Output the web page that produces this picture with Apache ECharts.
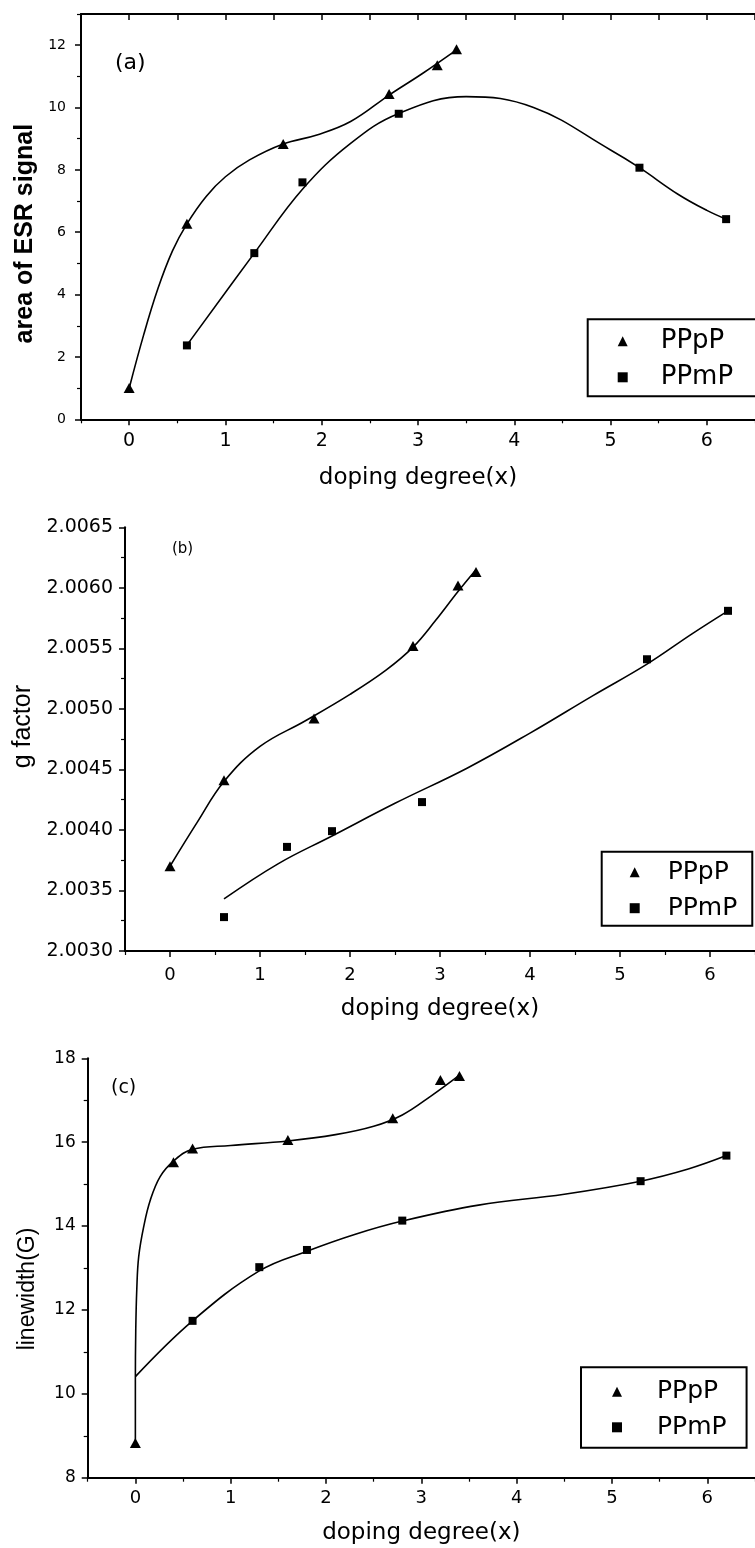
<!DOCTYPE html>
<html><head><meta charset="utf-8">
<script src="https://cdn.jsdelivr.net/npm/echarts@6/dist/echarts.min.js"></script>
<style>html,body{margin:0;padding:0;background:#fff}#c{width:755px;height:1548px}</style>
</head><body><div id="c"></div>
<script>
// ---- tick values ----
const xMajorTicks = [0, 1, 2, 3, 4, 5, 6];
const xMinorTicks = [-0.5, 0.5, 1.5, 2.5, 3.5, 4.5, 5.5, 6.5];
const xTopTicks = [-0.5, 0, 0.5, 1, 1.5, 2, 2.5, 3, 3.5, 4, 4.5, 5, 5.5, 6, 6.5];
const aYMajorTicks = [0, 2, 4, 6, 8, 10, 12];
const aYMinorTicks = [1, 3, 5, 7, 9, 11, 13];
const bYMajorTicks = [2.0030, 2.0035, 2.0040, 2.0045, 2.0050, 2.0055, 2.0060, 2.0065];
const bYMinorTicks = [2.00325, 2.00375, 2.00425, 2.00475, 2.00525, 2.00575, 2.00625];
const cYMajorTicks = [8, 10, 12, 14, 16, 18];
const cYMinorTicks = [9, 11, 13, 15, 17];

const seriesNames = ['PPpP', 'PPmP'];

// ---- panel (a): area of ESR signal ----
const aPPpPx = [0, 0.6, 1.6, 2.7, 3.2, 3.4];
const aPPpPy = [1.0, 6.27, 8.83, 10.43, 11.36, 11.87];
const aPPmPx = [0.6, 1.3, 1.8, 2.8, 5.3, 6.2];
const aPPmPy = [2.37, 5.33, 7.60, 9.80, 8.07, 6.42];
const aFitPPpPx = [0, 0.15, 0.3, 0.45, 0.6, 0.8, 1.0, 1.25, 1.6, 1.95, 2.3, 2.7, 3.05, 3.4];
const aFitPPpPy = [0.99, 2.70, 4.20, 5.40, 6.27, 7.15, 7.78, 8.32, 8.83, 9.12, 9.55, 10.40, 11.10, 11.85];
const aFitPPmPx = [0.6, 1.3, 1.8, 2.3, 2.8, 3.5, 4.2, 5.0, 5.3, 5.7, 6.0, 6.2];
const aFitPPmPy = [2.38, 5.33, 7.38, 8.85, 9.81, 10.35, 10.00, 8.64, 8.07, 7.22, 6.70, 6.42];

// ---- panel (b): g factor ----
const bPPpPx = [0, 0.6, 1.6, 2.7, 3.2, 3.4];
const bPPpPy = [2.00370, 2.00441, 2.00492, 2.00552, 2.00602, 2.00613];
const bPPmPx = [0.6, 1.3, 1.8, 2.8, 5.3, 6.2];
const bPPmPy = [2.00328, 2.00386, 2.00399, 2.00423, 2.00541, 2.00581];
const bFitPPpPx = [0, 0.3, 0.6, 1.0, 1.5, 2.0, 2.4, 2.7, 2.95, 3.2, 3.4];
const bFitPPpPy = [2.00370, 2.00406, 2.00440, 2.00469, 2.00490, 2.00512, 2.00532, 2.00551, 2.00573, 2.00597, 2.00615];
const bFitPPmPx = [0.6, 1.2, 1.8, 2.5, 3.3, 4.0, 4.7, 5.3, 5.8, 6.2];
const bFitPPmPy = [2.00343, 2.00372, 2.00395, 2.00422, 2.00451, 2.00480, 2.00511, 2.00537, 2.00562, 2.00581];

// ---- panel (c): linewidth ----
const cPPpPx = [0, 0.4, 0.6, 1.6, 2.7, 3.2, 3.4];
const cPPpPy = [8.83, 15.52, 15.85, 16.05, 16.57, 17.48, 17.58];
const cPPmPx = [0.6, 1.3, 1.8, 2.8, 5.3, 6.2];
const cPPmPy = [11.74, 13.02, 13.43, 14.13, 15.07, 15.68];
const cFitPPpPx = [0, 0, 0.004, 0.015, 0.035, 0.087, 0.157, 0.26, 0.4, 0.6, 1.0, 1.6, 2.1, 2.5, 2.8, 3.1, 3.4];
const cFitPPpPy = [8.83, 10.3, 11.5, 12.5, 13.27, 13.98, 14.62, 15.18, 15.55, 15.83, 15.92, 16.03, 16.18, 16.38, 16.65, 17.10, 17.6];
const cFitPPmPx = [0, 0.6, 1.3, 1.8, 2.3, 2.8, 3.6, 4.5, 5.3, 5.8, 6.2];
const cFitPPmPy = [10.41, 11.74, 12.93, 13.40, 13.80, 14.12, 14.50, 14.76, 15.07, 15.36, 15.68];

// ---- helpers ----
const zip = (xs, ys) => xs.map((x, i) => [x, ys[i]]);
const FONT = 'DejaVu Sans';
const BLACK = '#000';

function xMajor(g, labelSize, margin, nameGap) {
  return {
    type: 'value', gridIndex: g, position: 'bottom', min: -0.5, max: 6.5,
    axisLine: { show: true, onZero: false, lineStyle: { color: BLACK, width: 2 } },
    axisTick: { show: true, inside: false, length: 6, customValues: xMajorTicks, lineStyle: { color: BLACK, width: 1.5 } },
    axisLabel: { show: true, customValues: xMajorTicks, margin: margin, color: BLACK, fontSize: labelSize, fontFamily: FONT },
    splitLine: { show: false },
    name: 'doping degree(x)', nameLocation: 'middle', nameGap: nameGap,
    nameTextStyle: { color: BLACK, fontSize: 23, fontFamily: FONT }
  };
}
function xMinor(g) {
  return {
    type: 'value', gridIndex: g, position: 'bottom', min: -0.5, max: 6.5,
    axisLine: { show: false, onZero: false },
    axisTick: { show: true, inside: false, length: 4, customValues: xMinorTicks, lineStyle: { color: BLACK, width: 1.2 } },
    axisLabel: { show: false }, splitLine: { show: false }
  };
}
function yMajor(g, min, max, ticks, labelSize, margin, fmt, name, nameStyle, nameGap) {
  return {
    type: 'value', gridIndex: g, position: 'left', min: min, max: max,
    axisLine: { show: true, onZero: false, lineStyle: { color: BLACK, width: 2 } },
    axisTick: { show: true, inside: false, length: 6, customValues: ticks, lineStyle: { color: BLACK, width: 1.5 } },
    axisLabel: { show: true, customValues: ticks, margin: margin, color: BLACK, fontSize: labelSize, fontFamily: FONT, formatter: fmt },
    splitLine: { show: false },
    name: name, nameLocation: 'middle', nameRotate: 90, nameGap: nameGap,
    nameTextStyle: Object.assign({ color: BLACK }, nameStyle)
  };
}
function yMinor(g, min, max, ticks) {
  return {
    type: 'value', gridIndex: g, position: 'left', min: min, max: max,
    axisLine: { show: false, onZero: false },
    axisTick: { show: true, inside: false, length: 4, customValues: ticks, lineStyle: { color: BLACK, width: 1.2 } },
    axisLabel: { show: false }, splitLine: { show: false }
  };
}
function fitLine(xi, yi, xs, ys) {
  return {
    type: 'line', name: 'fit', xAxisIndex: xi, yAxisIndex: yi, data: zip(xs, ys),
    smooth: 0.4, showSymbol: false, symbol: 'none', silent: true, z: 2,
    lineStyle: { color: BLACK, width: 1.6 }
  };
}
function pts(name, xi, yi, xs, ys) {
  const tri = name === 'PPpP';
  return {
    type: 'scatter', name: name, xAxisIndex: xi, yAxisIndex: yi, data: zip(xs, ys),
    symbol: tri ? 'triangle' : 'rect', symbolSize: tri ? [11, 10] : 8, z: 3,
    itemStyle: { color: BLACK, opacity: 1 }
  };
}
function legendBox(left, top, padding, itemGap, fontSize, textPadLeft) {
  return {
    data: seriesNames, orient: 'vertical', left: left, top: top, padding: padding, itemGap: itemGap,
    itemWidth: 10, itemHeight: 10, selectedMode: false,
    borderColor: BLACK, borderWidth: 2, backgroundColor: '#fff',
    textStyle: { color: BLACK, fontSize: fontSize, fontFamily: FONT, padding: [0, 0, 0, textPadLeft] }
  };
}

const chart = echarts.init(document.getElementById('c'), null, { renderer: 'canvas' });
chart.setOption({
  animation: false,
  backgroundColor: '#fff',
  grid: [
    { left: 81, top: 14, width: 684, height: 405.3 },
    { left: 125, top: 527.3, width: 632.8, height: 423.7 },
    { left: 87.7, top: 1058.3, width: 668, height: 419.4 }
  ],
  xAxis: [
    xMajor(0, 19, 12, 47),
    xMinor(0),
    {
      type: 'value', gridIndex: 0, position: 'top', min: -0.5, max: 6.5,
      axisLine: { show: true, onZero: false, lineStyle: { color: BLACK, width: 2 } },
      axisTick: { show: true, inside: true, length: 6, customValues: xTopTicks, lineStyle: { color: BLACK, width: 1.5 } },
      axisLabel: { show: false }, splitLine: { show: false }
    },
    xMajor(1, 18, 15, 47),
    xMinor(1),
    xMajor(2, 18, 12, 44),
    xMinor(2)
  ],
  yAxis: [
    yMajor(0, 0, 13, aYMajorTicks, 14, 15, v => String(v), 'area of ESR signal',
      { fontSize: 25, fontWeight: 'bold', fontFamily: 'Liberation Sans', padding: [0, 34, 0, 0] }, 40),
    yMinor(0, 0, 13, aYMinorTicks),
    yMajor(1, 2.0030, 2.0065, bYMajorTicks, 19, 12, v => v.toFixed(4), 'g factor',
      { fontSize: 25, fontFamily: 'Liberation Sans', padding: [0, 0, 0, 25] }, 89),
    yMinor(1, 2.0030, 2.0065, bYMinorTicks),
    yMajor(2, 8, 18, cYMajorTicks, 17, 12, v => String(v), 'linewidth(G)',
      { fontSize: 23, fontFamily: 'Liberation Sans', padding: [0, 42, 0, 0] }, 49),
    yMinor(2, 8, 18, cYMinorTicks)
  ],
  legend: [
    legendBox(587.7, 319.3, [9, 25, 6, 30], 10, 26, 28),
    legendBox(601.7, 851.7, [8, 15, 5, 28], 11, 25, 23),
    legendBox(581, 1367.3, [12, 20, 8, 31], 10.5, 25, 30)
  ],
  graphic: [
    { type: 'text', left: 115, top: 52, style: { text: '(a)', font: '22px "DejaVu Sans"', fill: BLACK } },
    { type: 'text', left: 172, top: 542, style: { text: '(b)', font: '15px "DejaVu Sans"', fill: BLACK } },
    { type: 'text', left: 111, top: 1079, style: { text: '(c)', font: '19px "DejaVu Sans"', fill: BLACK } }
  ],
  series: [
    fitLine(0, 0, aFitPPpPx, aFitPPpPy),
    fitLine(0, 0, aFitPPmPx, aFitPPmPy),
    pts('PPpP', 0, 0, aPPpPx, aPPpPy),
    pts('PPmP', 0, 0, aPPmPx, aPPmPy),
    fitLine(3, 2, bFitPPpPx, bFitPPpPy),
    fitLine(3, 2, bFitPPmPx, bFitPPmPy),
    pts('PPpP', 3, 2, bPPpPx, bPPpPy),
    pts('PPmP', 3, 2, bPPmPx, bPPmPy),
    fitLine(5, 4, cFitPPpPx, cFitPPpPy),
    fitLine(5, 4, cFitPPmPx, cFitPPmPy),
    pts('PPpP', 5, 4, cPPpPx, cPPpPy),
    pts('PPmP', 5, 4, cPPmPx, cPPmPy)
  ]
});
</script>
</body></html>
